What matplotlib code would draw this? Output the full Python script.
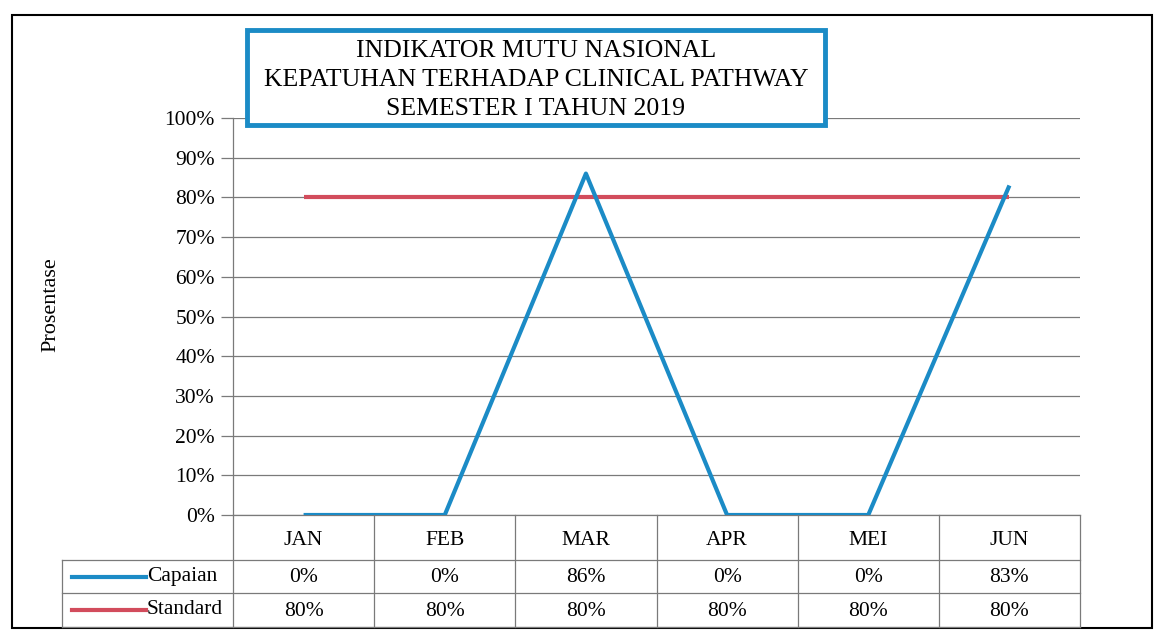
import matplotlib
matplotlib.use("Agg")
import matplotlib.pyplot as plt
from matplotlib.lines import Line2D
from matplotlib.patches import Rectangle
import matplotlib.transforms as mtransforms
import numpy as np

months = ["JAN", "FEB", "MAR", "APR", "MEI", "JUN"]
capaian = [0, 0, 86, 0, 0, 83]
standard = [80, 80, 80, 80, 80, 80]
yticks = [0, 10, 20, 30, 40, 50, 60, 70, 80, 90, 100]
title_lines = ["INDIKATOR MUTU NASIONAL",
               "KEPATUHAN TERHADAP CLINICAL PATHWAY",
               "SEMESTER I TAHUN 2019"]

W, H = 1168, 631
blue = "#1b8bc6"
red = "#d24c5c"
grid_c = "#7a7a7a"
fs = 15.5

plt.rcParams['font.family'] = ['Liberation Serif', 'DejaVu Serif']

fig = plt.figure(figsize=(W / 100, H / 100), dpi=100)

def fx(px):
    return px / W

def fy(py):
    return 1 - py / H

# plot area in pixels
L, R, T, B = 233, 1080, 118, 515
ax = fig.add_axes([fx(L), fy(B), fx(R - L), (B - T) / H])

x = np.arange(len(months))
ax.plot(x, standard, color=red, lw=3.0, solid_capstyle='butt', zorder=3)
ax.plot(x, capaian, color=blue, lw=3.0, solid_capstyle='butt', zorder=4)

ax.set_xlim(-0.5, len(months) - 0.5)
ax.set_ylim(0, 100)
ax.set_yticks(yticks)
ax.set_yticklabels([f"{v}%" for v in yticks], fontsize=fs)
ax.yaxis.grid(True, color=grid_c, lw=0.9)
ax.tick_params(axis='y', direction='out', length=9, width=0.9, color=grid_c, pad=4)
ax.set_xticks([])
for s in ["top", "right"]:
    ax.spines[s].set_visible(False)
ax.spines["left"].set_color(grid_c)
ax.spines["bottom"].set_color(grid_c)
ax.spines["left"].set_linewidth(0.9)
ax.spines["bottom"].set_linewidth(0.9)

fig.text(fx(51), fy(305), "Prosentase", rotation=90, ha='center', va='center', fontsize=16)

# data table under the axis
row_y = [515, 560, 593, 627]  # pixel boundaries
trans = mtransforms.blended_transform_factory(ax.transData, fig.transFigure)
line_kw = dict(color=grid_c, lw=0.9)

# vertical separators between months
for i in range(len(months) + 1):
    xe = i - 0.5
    fig.add_artist(Line2D([xe, xe], [fy(row_y[0]), fy(row_y[3])], transform=trans, **line_kw))
# horizontal lines
for yy in row_y[1:]:
    fig.add_artist(Line2D([fx(62), fx(R)], [fy(yy), fy(yy)], **line_kw))
fig.add_artist(Line2D([fx(62), fx(62)], [fy(row_y[1]), fy(row_y[3])], **line_kw))

for i, m in enumerate(months):
    fig.text(i, fy((row_y[0] + row_y[1]) / 2 + 3), m, transform=trans,
             ha='center', va='center', fontsize=fs)
    fig.text(i, fy((row_y[1] + row_y[2]) / 2 + 1), f"{capaian[i]}%", transform=trans,
             ha='center', va='center', fontsize=fs)
    fig.text(i, fy((row_y[2] + row_y[3]) / 2 + 2), f"{standard[i]}%", transform=trans,
             ha='center', va='center', fontsize=fs)

# legend keys in the row-label column
for (name, col, r) in [("Capaian", blue, 1), ("Standard", red, 2)]:
    yc = fy((row_y[r] + row_y[r + 1]) / 2)
    fig.add_artist(Line2D([fx(72), fx(146)], [yc, yc], color=col, lw=3.0))
    fig.text(fx(147), yc, name, ha='left', va='center', fontsize=fs)

# title box
fig.add_artist(Rectangle((fx(247), fy(125)), fx(825 - 247), (125 - 30) / H,
                         facecolor='white', edgecolor=blue, lw=3.5, zorder=5))
for k, t in enumerate(title_lines):
    fig.text(fx(536), fy(51 + k * 29), t, ha='center', va='center',
             fontsize=18.5, zorder=6)

# outer frame
fig.add_artist(Rectangle((fx(12), fy(628)), fx(1152 - 12), (628 - 15) / H,
                         facecolor='none', edgecolor='black', lw=1.5))

fig.savefig("out.png", dpi=100)
